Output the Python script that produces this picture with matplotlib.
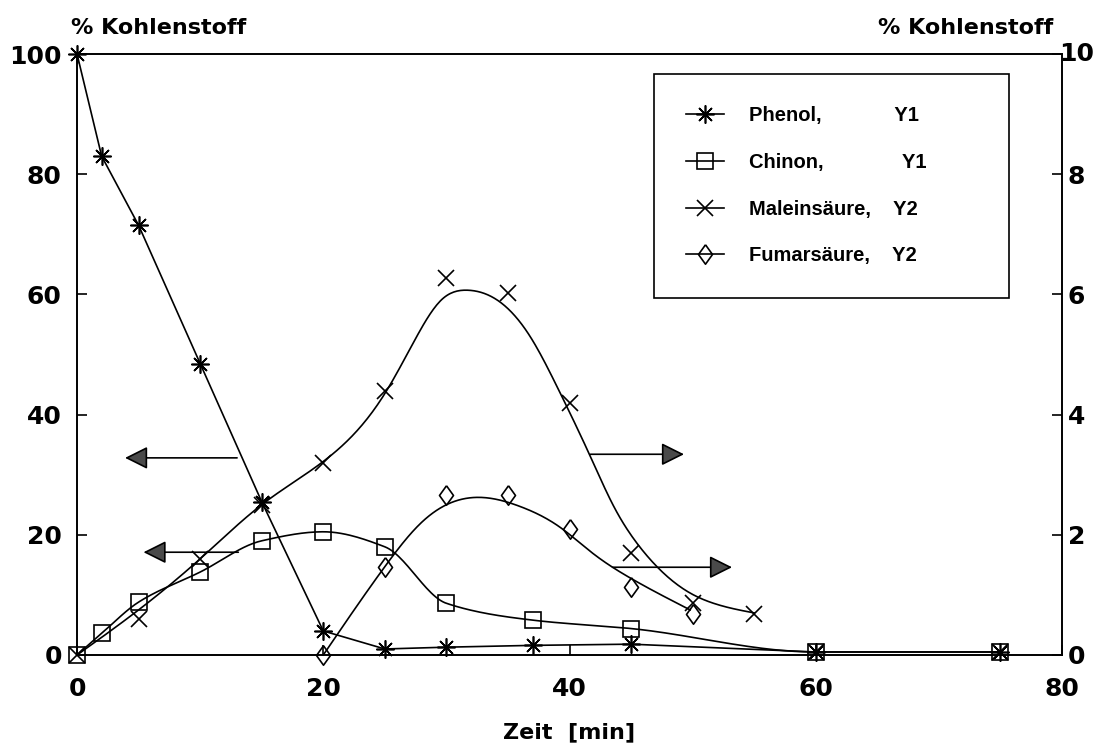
import numpy as np
import matplotlib
matplotlib.use("Agg")
from matplotlib import pyplot as plt
from matplotlib.lines import Line2D

# Measured carbon fractions (% Kohlenstoff) over time (min)
phenol_t = [0, 2, 5, 10, 15, 20, 25, 30, 37, 45, 60, 75]
phenol_c = [100, 83, 71.5, 48.5, 25.5, 4, 1, 1.3, 1.6, 1.8, 0.5, 0.5]

chinon_t = [0, 2, 5, 10, 15, 20, 25, 30, 37, 45, 60, 75]
chinon_c = [0, 3.6, 8.8, 13.8, 19, 20.5, 18, 8.6, 5.8, 4.4, 0.5, 0.5]

malein_t = [0, 5, 10, 15, 20, 25, 30, 35, 40, 45, 50, 55, 60, 75]
malein_c = [0, 0.6, 1.6, 2.5, 3.2, 4.4, 6.27, 6.02, 4.19, 1.7, 0.86, 0.69, 0.05, 0.05]

fumar_t = [20, 25, 30, 35, 40, 45, 50]
fumar_c = [0, 1.47, 2.66, 2.66, 2.09, 1.13, 0.68]

# fitted curves drawn through the acid data (right axis)
malein_fit_t = [0, 5, 10, 15, 20, 25, 27.3, 29.6, 31.7, 34.1, 36.8, 39.0,
                41.7, 43.6, 45.7, 47.1, 49.8, 51.7, 55]
malein_fit_c = [0, 0.75, 1.6, 2.5, 3.22, 4.35, 5.19, 5.91, 6.07, 5.91, 5.30, 4.46,
                3.30, 2.47, 1.80, 1.47, 1.03, 0.86, 0.70]
fumar_fit_t = [20, 25, 27.9, 30, 33, 36, 39.2, 41.9, 45.2, 49.8]
fumar_fit_c = [0, 1.47, 2.19, 2.50, 2.62, 2.47, 2.13, 1.69, 1.25, 0.75]

# arrows: (tail x, tip x, height)
arrows_left = [(13.0, 3.9, 32.8), (13.1, 5.4, 17.1)]
arrows_right = [(41.7, 49.3, 3.34), (43.5, 53.2, 1.46)]

labels = ["Phenol,             Y1", "Chinon,              Y1",
          "Maleinsäure,    Y2", "Fumarsäure,    Y2"]
yticks_left = [0, 20, 40, 60, 80, 100]
yticks_right = [0, 2, 4, 6, 8, 10]
xticks = [0, 20, 40, 60, 80]


def pchip(x, y, num=400):
    """Shape preserving cubic through the given knots."""
    x = np.asarray(x, float)
    y = np.asarray(y, float)
    h = np.diff(x)
    d = np.diff(y) / h
    m = np.zeros_like(y)
    for k in range(1, len(x) - 1):
        if d[k - 1] * d[k] > 0:
            w1 = 2 * h[k] + h[k - 1]
            w2 = h[k] + 2 * h[k - 1]
            m[k] = (w1 + w2) / (w1 / d[k - 1] + w2 / d[k])
    m[0] = d[0]
    m[-1] = d[-1]
    xs = np.linspace(x[0], x[-1], num)
    i = np.clip(np.searchsorted(x, xs) - 1, 0, len(h) - 1)
    t = (xs - x[i]) / h[i]
    h00 = 2 * t**3 - 3 * t**2 + 1
    h10 = t**3 - 2 * t**2 + t
    h01 = -2 * t**3 + 3 * t**2
    h11 = t**3 - t**2
    ys = h00 * y[i] + h10 * h[i] * m[i] + h01 * y[i + 1] + h11 * h[i] * m[i + 1]
    return xs, ys


def natural_spline(x, y, num=400):
    """Natural cubic spline (smooth second derivative) through the knots."""
    x = np.asarray(x, float)
    y = np.asarray(y, float)
    n = len(x)
    h = np.diff(x)
    d = np.diff(y) / h
    A = np.zeros((n, n))
    r = np.zeros(n)
    A[0, 0] = A[-1, -1] = 1
    for k in range(1, n - 1):
        A[k, k - 1] = h[k - 1]
        A[k, k] = 2 * (h[k - 1] + h[k])
        A[k, k + 1] = h[k]
        r[k] = 6 * (d[k] - d[k - 1])
    M = np.linalg.solve(A, r)
    xs = np.linspace(x[0], x[-1], num)
    i = np.clip(np.searchsorted(x, xs) - 1, 0, n - 2)
    a = x[i + 1] - xs
    b = xs - x[i]
    hi = h[i]
    ys = (M[i] * a**3 + M[i + 1] * b**3) / (6 * hi) \
        + (y[i] / hi - M[i] * hi / 6) * a + (y[i + 1] / hi - M[i + 1] * hi / 6) * b
    return xs, ys


tick_font = dict(family="DejaVu Sans", weight="bold", size=18)
lw = 1.2
star = (8, 2, 0)
diamond = [(0, 1), (0.72, 0), (0, -1), (-0.72, 0), (0, 1)]
mk = dict(color="black", markerfacecolor="none", markeredgewidth=1.2,
          linestyle="none", clip_on=False, zorder=4)

fig = plt.figure(figsize=(11.02, 7.46), dpi=100)
ax = fig.add_axes([0.0699, 0.1220, 0.8938, 0.8056])
ax2 = ax.twinx()

# left axis: phenol and chinon
ax.plot(phenol_t, phenol_c, color="black", lw=lw, clip_on=False)
ax.plot(phenol_t, phenol_c, marker=star, markersize=13, **mk)
cx, cy = pchip(chinon_t, chinon_c)
ax.plot(cx, cy, color="black", lw=lw, clip_on=False)
ax.plot(chinon_t, chinon_c, marker="s", markersize=12, **mk)

# right axis: maleic and fumaric acid
mx, my = natural_spline(malein_fit_t, malein_fit_c)
ax2.plot(mx, my, color="black", lw=lw, clip_on=False)
ax2.plot(malein_t, malein_c, marker="x", markersize=11, **mk)
fx, fy = natural_spline(fumar_fit_t, fumar_fit_c)
ax2.plot(fx, fy, color="black", lw=lw, clip_on=False)
ax2.plot(fumar_t, fumar_c, marker=diamond, markersize=14, **mk)

arrow_props = dict(arrowstyle="-|>,head_length=1.0,head_width=0.5",
                   mutation_scale=14, lw=1.2, color="black",
                   fc="#4a4a4a", shrinkA=0, shrinkB=0)
for tail, tip, yv in arrows_left:
    ax.annotate("", xy=(tip, yv), xytext=(tail, yv), arrowprops=arrow_props)
for tail, tip, yv in arrows_right:
    ax2.annotate("", xy=(tip, yv), xytext=(tail, yv), arrowprops=arrow_props)

ax.set_xlim(0, 80)
ax.set_ylim(0, 100)
ax2.set_ylim(0, 10)
ax.set_xticks(xticks)
ax.set_yticks(yticks_left)
ax2.set_yticks(yticks_right)
# the top label of the right axis sits tight against the frame, drawn separately
ax2.set_yticklabels([str(v) for v in yticks_right[:-1]] + [""])
ax2.annotate(str(yticks_right[-1]), xy=(1, yticks_right[-1]),
             xycoords=("axes fraction", "data"), xytext=(-2, 0),
             textcoords="offset points", ha="left", va="center", **tick_font)

ax.tick_params(axis="x", direction="in", length=7, width=1.2, pad=16)
ax.tick_params(axis="y", direction="in", length=7, width=1.2, pad=11)
ax2.tick_params(axis="y", direction="in", length=7, width=1.2, pad=4)
for lab in ax.get_xticklabels() + ax.get_yticklabels() + ax2.get_yticklabels():
    lab.set_fontproperties(tick_font)

for a in (ax, ax2):
    for sp in a.spines.values():
        sp.set_linewidth(1.2)

ax.set_xlabel("Zeit  [min]", family="DejaVu Sans", weight="bold",
              fontsize=16, labelpad=15)
fig.text(71 / 1102, 1 - 28 / 746, "% Kohlenstoff", family="DejaVu Sans",
         weight="bold", fontsize=16, ha="left", va="center")
fig.text(1053 / 1102, 1 - 28 / 746, "% Kohlenstoff", family="DejaVu Sans",
         weight="bold", fontsize=16, ha="right", va="center")

handles = [
    Line2D([], [], color="black", lw=lw, marker=star, markersize=13,
           markerfacecolor="none", markeredgewidth=1.2),
    Line2D([], [], color="black", lw=lw, marker="s", markersize=12,
           markerfacecolor="none", markeredgewidth=1.2),
    Line2D([], [], color="black", lw=lw, marker="x", markersize=11,
           markeredgewidth=1.2),
    Line2D([], [], color="black", lw=lw, marker=diamond, markersize=14,
           markerfacecolor="none", markeredgewidth=1.2),
]
leg = ax2.legend(handles, labels, loc="upper left",
                 bbox_to_anchor=(0.586, 0.5, 0.3604, 0.467), mode="expand",
                 borderaxespad=0, frameon=True, fancybox=False, framealpha=1,
                 edgecolor="black", numpoints=1, handlelength=1.85,
                 handletextpad=1.25, borderpad=1.6, labelspacing=1.38,
                 prop=dict(family="Liberation Sans", weight="bold", size=14.5))
leg.get_frame().set_linewidth(1.2)
leg.set_zorder(10)

fig.savefig("out.png", dpi=100)
